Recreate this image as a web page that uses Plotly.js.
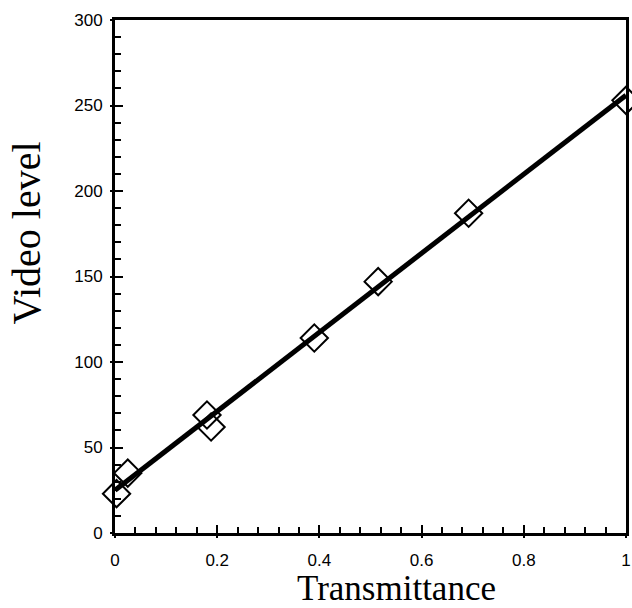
<!DOCTYPE html>
<html><head><meta charset="utf-8">
<script src="https://cdn.plot.ly/plotly-3.0.1.min.js"></script>
<style>html,body{margin:0;padding:0;background:#fff}#chart{width:632px;height:608px}</style>
</head><body><div id="chart"></div>
<script>
const transmittance = [0.003, 0.025, 0.18, 0.188, 0.39, 0.515, 0.692, 1.0];
const videoLevel = [23, 35, 69, 62, 114, 147, 187, 253];
const fitX = [0, 1];
const fitY = [25, 256];
const xTicks = [0, 0.2, 0.4, 0.6, 0.8, 1];
const xTickText = ['0', '0.2', '0.4', '0.6', '0.8', '1'];
const yTicks = [0, 50, 100, 150, 200, 250, 300];
const xTitle = 'Transmittance';
const yTitle = 'Video level';

const traces = [
  {x: fitX, y: fitY, mode: 'lines', line: {color: '#000', width: 5}, hoverinfo: 'skip', showlegend: false},
  {x: transmittance, y: videoLevel, mode: 'markers', cliponaxis: false,
   marker: {symbol: 'diamond-open', size: 21, color: '#000', line: {width: 2, color: '#000'}}, showlegend: false}
];
const xFont = {family: 'Arial, Liberation Sans, sans-serif', size: 17, color: '#000'};
const yFont = {family: 'Arial, Liberation Sans, sans-serif', size: 17, color: '#000'};
const serif = 'Times New Roman, Liberation Serif, serif';
const layout = {
  width: 632, height: 608,
  margin: {l: 115, r: 6, t: 20, b: 75},
  paper_bgcolor: '#fff', plot_bgcolor: '#fff',
  xaxis: {range: [0, 1], tickvals: xTicks, ticktext: xTickText, ticks: 'inside', ticklen: 8, tickwidth: 2, tickcolor: '#000',
    minor: {dtick: 0.04, ticks: 'inside', ticklen: 6, tickwidth: 2, tickcolor: '#000', showgrid: false},
    showline: true, linewidth: 3, linecolor: '#000', mirror: true, showgrid: false, zeroline: false,
    tickfont: xFont, ticklabelstandoff: 10},
  yaxis: {range: [0, 300], tickvals: yTicks, ticks: 'inside', ticklen: 8, tickwidth: 2, tickcolor: '#000',
    minor: {dtick: 10, ticks: 'inside', ticklen: 6, tickwidth: 2, tickcolor: '#000', showgrid: false},
    showline: true, linewidth: 3, linecolor: '#000', mirror: true, showgrid: false, zeroline: false,
    tickfont: yFont, ticklabelstandoff: 6},
  xaxis2: {overlaying: 'x', range: [0, 1], tickvals: xTicks, ticks: 'outside', ticklen: 4, tickwidth: 2, tickcolor: '#000',
    showticklabels: false, showgrid: false, zeroline: false, showline: false},
  yaxis2: {overlaying: 'y', range: [0, 300], tickvals: yTicks, ticks: 'outside', ticklen: 4, tickwidth: 2, tickcolor: '#000',
    showticklabels: false, showgrid: false, zeroline: false, showline: false},
  annotations: [
    {text: xTitle, xref: 'paper', yref: 'paper', x: 0.55, y: 0, xanchor: 'center', yanchor: 'top', yshift: -34,
     showarrow: false, font: {family: serif, size: 35, color: '#000'}},
    {text: yTitle, xref: 'paper', yref: 'paper', x: -0.173, y: 0.585, xanchor: 'center', yanchor: 'middle', textangle: -90,
     showarrow: false, font: {family: serif, size: 40, color: '#000'}}
  ]
};
traces.push({x: [0], y: [0], xaxis: 'x2', yaxis: 'y2', mode: 'markers', marker: {opacity: 0}, hoverinfo: 'skip', showlegend: false});
Plotly.newPlot('chart', traces, layout, {displayModeBar: false, staticPlot: true});
</script></body></html>
